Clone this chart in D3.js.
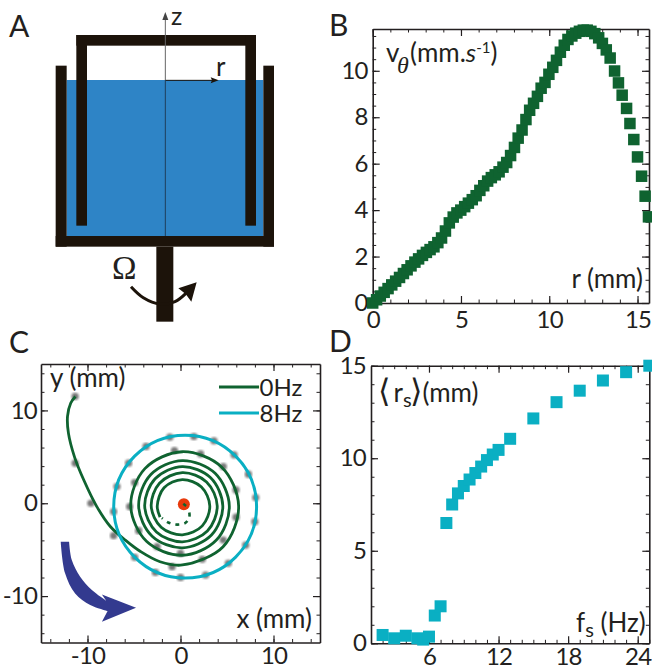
<!DOCTYPE html>
<html>
<head>
<meta charset="utf-8">
<script src="https://cdn.jsdelivr.net/npm/d3@7"></script>
<style>
  html, body { margin: 0; padding: 0; background: #fff; }
  text { font-family: Lato, sans-serif; fill: #231f20; }
  .tick text { font-family: Lato, sans-serif; font-size: 24px; letter-spacing: -0.8px; fill: #231f20; }
  .tick line, .domain { stroke: #231f20; }
</style>
</head>
<body>
<div id="chart"></div>
<script>
// panel B, azimuthal velocity profile
const rB = [0, 0.22, 0.43, 0.65, 0.87, 1.08, 1.3, 1.52, 1.74, 1.95, 2.17, 2.39, 2.6, 2.82, 3.04, 3.25, 3.47, 3.69, 3.9, 4.12, 4.34, 4.56, 4.77, 4.99, 5.21, 5.42, 5.64, 5.86, 6.07, 6.29, 6.51, 6.72, 6.94, 7.16, 7.38, 7.59, 7.81, 8.03, 8.24, 8.46, 8.68, 8.89, 9.11, 9.33, 9.54, 9.76, 9.98, 10.2, 10.41, 10.63, 10.85, 11.06, 11.28, 11.5, 11.71, 11.93, 12.15, 12.36, 12.58, 12.8, 13.01, 13.23, 13.45, 13.7, 13.92, 14.13, 14.38, 14.57, 14.79, 15, 15.23, 15.43, 15.62]
const vB = [0, 0.14, 0.3, 0.46, 0.62, 0.78, 0.94, 1.1, 1.27, 1.43, 1.6, 1.76, 1.9, 2.05, 2.18, 2.3, 2.42, 2.6, 2.8, 3.1, 3.45, 3.7, 3.88, 4.0, 4.15, 4.3, 4.45, 4.62, 4.85, 5.05, 5.25, 5.4, 5.52, 5.65, 5.85, 6.05, 6.35, 6.7, 7.1, 7.45, 7.9, 8.3, 8.6, 8.9, 9.25, 9.5, 9.85, 10.15, 10.45, 10.8, 11.1, 11.35, 11.5, 11.62, 11.7, 11.75, 11.75, 11.7, 11.6, 11.42, 11.18, 10.9, 10.55, 9.99, 9.48, 8.95, 8.38, 7.73, 7.04, 6.29, 5.46, 4.6, 3.71]

// panel C, 0Hz trajectory
const dashX = [0.95, 0.95, 0.55, -0.36, -1.26, -2.0]
const dashY = [-1.0, -1.5, -2.1, -2.3, -2.1, -1.6]
const spiralX = [-2.2, -2.5, -1.77, 0.2, 2.25, 3.15, 2.34, 0.2, -2.08, -3.15, -2.26, 0.2, 2.8, 3.95, 2.89, 0.2, -2.59, -3.85, -2.73, 0.2, 3.24, 4.55, 3.33, 0.2, -3.05, -4.5, -3.19, 0.2, 3.72, 5.25, 3.86, 0.2, -3.63, -5.35, -3.83, 0.2, 4.41, 6.25, 4.58, 0.2, -2.2, -4.3, -5.9, -7.55, -9, -10.4, -11.4, -12.05, -12.15, -11.8, -11.3]
const spiralY = [-1.5, -0.3, 1.67, 2.55, 1.75, -0.3, -2.44, -3.4, -2.58, -0.3, 2.16, 3.3, 2.3, -0.3, -2.99, -4.15, -3.09, -0.3, 2.63, 3.95, 2.74, -0.3, -3.43, -4.8, -3.55, -0.3, 3.09, 4.6, 3.22, -0.3, -3.96, -5.6, -4.13, -0.3, 3.73, 5.55, 3.91, -0.3, -4.68, -6.65, -6.3, -5.2, -4.0, -2.5, -0.36, 2.5, 5.0, 7.55, 9.35, 10.8, 11.5]
const startX = [0.3, 0.6]
const startY = [-0.05, -0.3]
// the particle seen at 8Hz, grey blobs of the stroboscopic image
const dotX = [-1.15, 1.44, 3.6, 5.76, 7.3, 8.09, 7.99, 7.01, 5.14, 2.7, 0, -2.7, -4.93, -7.19, -7.19, -6.83, -5.58, -3.7, -9.64, -11.33, -11.33, -0.65, 2.16, 4.6, 5.97, 5.97, 4.6, 2.34, -0.9, 0, -2.52, -4.5, -5.47, -4.93]
const dotY = [7.12, 7.19, 6.73, 5.22, 3.13, 0.61, -1.98, -4.5, -6.47, -7.73, -7.99, -7.45, -5.83, -3.49, -0.9, 1.8, 4.32, 6.12, 0, 4.32, 11.51, 5.68, 5.32, 3.96, 1.44, -1.5, -3.96, -6.04, -6.83, -5.4, -4.68, -2.95, -0.36, 2.23]
const orbitCenter = [0.5, -0.36]
const orbitRadius = 7.68
const axisPoint = [0.36, -0.1]
// big arrow of panel C, in mm
const arrowInnerX = [-11.98, -11.69, -10.79, -9.53, -7.99]
const arrowInnerY = [-4.14, -6.12, -7.91, -9.35, -10.5]
const arrowHeadX = [-8.45, -4.78, -8.45, -7.84]
const arrowHeadY = [-9.82, -11.26, -12.77, -11.62]
const arrowOuterX = [-7.84, -9.71, -11.33, -12.41, -12.88]
const arrowOuterY = [-11.62, -10.97, -9.71, -7.55, -4.14]

// panel D, mean radius against frequency
const fD = [2, 3, 4, 5, 5.5, 6, 6.5, 7, 7.5, 8, 8.5, 9, 9.5, 10, 10.5, 11, 11.5, 12, 13, 15, 17, 19, 21, 23, 25]
const rD = [0.45, 0.27, 0.41, 0.27, 0.2, 0.36, 1.5, 2, 6.5, 7.5, 8.1, 8.5, 8.85, 9.2, 9.55, 9.9, 10.2, 10.45, 11.05, 12.15, 13.03, 13.65, 14.2, 14.65, 15]

const ticksBx = [0, 5, 10, 15]
const ticksBy = [0, 2, 4, 6, 8, 10]
const ticksC = [-10, 0, 10]
const ticksDx = [6, 12, 18, 24]
const ticksDy = [0, 5, 10, 15]

const GREEN = '#0f6330'
const CYAN = '#0aafc3'

const svg = d3.select('#chart').append('svg')
  .attr('width', 652)
  .attr('height', 670)
  .style('display', 'block')

svg.append('defs').append('filter')
  .attr('id', 'blur')
  .append('feGaussianBlur')
  .attr('stdDeviation', 1.2)

const zip = (xs, ys) => xs.map((x, i) => [x, ys[i]])

// four sided box with inward ticks, labels only on bottom and left
const drawFrame = (x, y, opts) => {
  const [x0, x1] = x.range()
  const [y0, y1] = y.range()
  const g = svg.append('g')
  const minorX = d3.range(opts.minorX[0], x.domain()[1] + 0.01, opts.minorX[1])
  const minorY = d3.range(opts.minorY[0], y.domain()[1] + 0.01, opts.minorY[1])

  const sides = [
    [d3.axisBottom(x), y0, 'x', opts.majorX, minorX, true],
    [d3.axisTop(x), y1, 'x', opts.majorX, minorX, false],
    [d3.axisLeft(y), x0, 'y', opts.majorY, minorY, true],
    [d3.axisRight(y), x1, 'y', opts.majorY, minorY, false]
  ]
  sides.forEach(([axis, pos, dim, major, minor, labelled]) => {
    const tr = dim === 'x' ? `translate(0,${pos})` : `translate(${pos},0)`
    g.append('g').attr('transform', tr)
      .call(axis.tickValues(minor).tickSize(-3.5).tickSizeOuter(0).tickFormat(''))
      .call(s => s.select('.domain').attr('stroke-width', 1.6))
      .selectAll('line').attr('stroke-width', 1)
    g.append('g').attr('transform', tr)
      .call(axis.tickValues(major).tickSize(-7).tickSizeOuter(0)
        .tickPadding(dim === 'x' ? opts.padX : opts.padY)
        .tickFormat(labelled ? d => String(d) : ''))
      .call(s => s.select('.domain').remove())
      .selectAll('line').attr('stroke-width', 1.2)
  })
}

const label = (x, y, txt, size) => svg.append('text')
  .attr('x', x).attr('y', y)
  .attr('font-size', size || 26)
  .text(txt)

label(9, 37, 'A', 30)
label(329, 36, 'B', 30)
label(9, 353, 'C', 30)
label(329, 352, 'D', 30)

// ---- panel A, traced in units of the cup drawing
const ax = d3.scaleLinear().domain([0, 978]).range([0, 326])
const ay = d3.scaleLinear().domain([0, 990]).range([0, 330])
const rectA = (g, x0, y0, x1, y1, fill) => g.append('rect')
  .attr('x', ax(x0)).attr('y', ay(y0))
  .attr('width', ax(x1) - ax(x0)).attr('height', ay(y1) - ay(y0))
  .attr('fill', fill)

const gA = svg.append('g')
const INK = '#1c130a'
rectA(gA, 200, 240, 790, 708, '#2e84c6')
rectA(gA, 167, 197, 200, 740, INK)
rectA(gA, 790, 197, 822, 740, INK)
rectA(gA, 167, 708, 822, 740, INK)
rectA(gA, 229, 105, 768, 137, INK)
rectA(gA, 229, 105, 261, 677, INK)
rectA(gA, 736, 105, 768, 677, INK)
rectA(gA, 469, 740, 520, 965, INK)

gA.append('line').attr('x1', ax(496)).attr('x2', ax(496)).attr('y1', ay(708)).attr('y2', ay(240))
  .attr('stroke', '#1f3f5c').attr('stroke-width', 1)
gA.append('line').attr('x1', ax(496)).attr('x2', ax(496)).attr('y1', ay(240)).attr('y2', ay(50))
  .attr('stroke', '#666').attr('stroke-width', 1)
gA.append('path').attr('fill', '#444')
  .attr('d', d3.line()([[ax(496), ay(36)], [ax(505), ay(60)], [ax(487), ay(60)]]))
gA.append('line').attr('x1', ax(497)).attr('x2', ax(640)).attr('y1', ay(241)).attr('y2', ay(241))
  .attr('stroke', INK).attr('stroke-width', 1)
gA.append('path').attr('fill', INK)
  .attr('d', d3.line()([[ax(656), ay(241)], [ax(632), ay(232)], [ax(636), ay(241)], [ax(632), ay(250)]]))
label(ax(513), ay(76), 'z', 25)
label(ax(648), ay(228), 'r', 26)
svg.append('text').attr('x', ax(336)).attr('y', ay(838))
  .attr('font-size', 33)
  .style('font-family', '"Liberation Serif", serif')
  .text('Ω')
gA.append('path').attr('fill', 'none').attr('stroke', INK).attr('stroke-width', 3)
  .attr('d', d3.line().curve(d3.curveCatmullRom)(
    [[393, 860], [430, 893], [480, 912], [525, 905], [560, 878]].map(p => [ax(p[0]), ay(p[1])])))
gA.append('path').attr('fill', INK)
  .attr('d', d3.line()([[590, 847], [574, 905], [557, 882], [535, 865]].map(p => [ax(p[0]), ay(p[1])])))

// ---- panel B
const xB = d3.scaleLinear().domain([0, 15.65]).range([372.7, 649])
const yB = d3.scaleLinear().domain([0, 11.8]).range([303, 29])
drawFrame(xB, yB, { majorX: ticksBx, majorY: ticksBy, minorX: [0, 1], minorY: [0, 0.5], padX: 8, padY: 5 })

const SQ_B = 11.5
svg.append('g').selectAll('rect')
  .data(zip(rB, vB))
  .enter().append('rect')
  .attr('x', d => xB(d[0]) - SQ_B / 2)
  .attr('y', d => yB(d[1]) - SQ_B / 2)
  .attr('width', SQ_B)
  .attr('height', SQ_B)
  .attr('fill', GREEN)

const vLabel = svg.append('text').attr('y', 62).attr('font-size', 26)
vLabel.append('tspan').attr('x', 386).text('v')
vLabel.append('tspan').attr('x', 397).attr('dy', 11).attr('font-size', 24).attr('font-style', 'italic')
  .style('font-family', '"Liberation Serif", serif').text('θ')
vLabel.append('tspan').attr('x', 410).attr('dy', -11).text('(mm.')
vLabel.append('tspan').attr('font-style', 'italic').text('s')
vLabel.append('tspan').attr('dy', -9).attr('font-size', 15).text('-1')
vLabel.append('tspan').attr('dy', 9).text(')')
label(643, 288, 'r (mm)').attr('text-anchor', 'end')

// ---- panel C
const xC = d3.scaleLinear().domain([-15, 15]).range([41, 320])
const yC = d3.scaleLinear().domain([-15, 15]).range([642.5, 364])
drawFrame(xC, yC, { majorX: ticksC, majorY: ticksC, minorX: [-14, 2], minorY: [-14, 2], padX: 4.5, padY: 4 })

const lineC = d3.line().x(d => xC(d[0])).y(d => yC(d[1]))

svg.append('g').selectAll('circle')
  .data(zip(dotX, dotY))
  .enter().append('circle')
  .attr('cx', d => xC(d[0]))
  .attr('cy', d => yC(d[1]))
  .attr('r', 3.6)
  .attr('fill', '#777')
  .attr('filter', 'url(#blur)')

svg.append('path').attr('fill', 'none').attr('stroke', GREEN).attr('stroke-width', 2.8)
  .attr('d', lineC.curve(d3.curveCatmullRom)(zip(spiralX, spiralY)))
svg.append('path').attr('fill', 'none').attr('stroke', GREEN).attr('stroke-width', 2.6)
  .attr('stroke-dasharray', '4 5')
  .attr('d', lineC.curve(d3.curveCatmullRom)(zip(dashX, dashY)))
svg.append('circle')
  .attr('cx', xC(orbitCenter[0]))
  .attr('cy', yC(orbitCenter[1]))
  .attr('r', xC(orbitRadius) - xC(0))
  .attr('fill', 'none')
  .attr('stroke', CYAN)
  .attr('stroke-width', 3)
svg.append('circle')
  .attr('cx', xC(axisPoint[0]))
  .attr('cy', yC(axisPoint[1]))
  .attr('r', 6)
  .attr('fill', '#e83a0c')
svg.append('path').attr('fill', 'none').attr('stroke', GREEN).attr('stroke-width', 2.4)
  .attr('d', lineC.curve(d3.curveLinear)(zip(startX, startY)))

const arrowPath = lineC.curve(d3.curveCatmullRom)(zip(arrowInnerX, arrowInnerY)) +
  lineC.curve(d3.curveLinear)(zip(arrowHeadX, arrowHeadY)).replace('M', 'L') +
  lineC.curve(d3.curveCatmullRom)(zip(arrowOuterX, arrowOuterY)).replace('M', 'L') + 'Z'
svg.append('path').attr('d', arrowPath).attr('fill', '#333a8f')

label(50, 387, 'y (mm)')
label(312, 628, 'x (mm)').attr('text-anchor', 'end')
svg.append('line').attr('x1', 219).attr('x2', 259).attr('y1', 387).attr('y2', 387).attr('stroke', GREEN).attr('stroke-width', 2.8)
svg.append('line').attr('x1', 219).attr('x2', 259).attr('y1', 413).attr('y2', 413).attr('stroke', CYAN).attr('stroke-width', 2.8)
label(259.5, 396, '0Hz', 24)
label(259.5, 422, '8Hz', 24)

// ---- panel D
const xD = d3.scaleLinear().domain([1, 25]).range([371, 649.3])
const yD = d3.scaleLinear().domain([0, 15]).range([643.3, 365.7])
drawFrame(xD, yD, { majorX: ticksDx, majorY: ticksDy, minorX: [2, 1], minorY: [0, 1], padX: 5, padY: 5 })

const SQ_D = 12
svg.append('g').selectAll('rect')
  .data(zip(fD, rD))
  .enter().append('rect')
  .attr('x', d => xD(d[0]) - SQ_D / 2)
  .attr('y', d => yD(d[1]) - SQ_D / 2)
  .attr('width', SQ_D)
  .attr('height', SQ_D)
  .attr('fill', CYAN)

const rsLabel = svg.append('text').attr('y', 402).attr('font-size', 26)
rsLabel.append('tspan').attr('x', 378).attr('font-size', 32)
  .style('font-family', '"DejaVu Sans", sans-serif').text('⟨')
rsLabel.append('tspan').attr('x', 393.5).text('r')
rsLabel.append('tspan').attr('dy', 5).attr('font-size', 20).text('s')
rsLabel.append('tspan').attr('x', 410).attr('dy', -5).attr('font-size', 32)
  .style('font-family', '"DejaVu Sans", sans-serif').text('⟩')
rsLabel.append('tspan').attr('x', 422.5).text('(mm)')

const fsLabel = svg.append('text').attr('x', 576).attr('y', 632).attr('font-size', 26)
fsLabel.append('tspan').text('f')
fsLabel.append('tspan').attr('dy', 5).attr('font-size', 20).text('s')
fsLabel.append('tspan').attr('dy', -5).text(' (Hz)')
</script>
</body>
</html>
